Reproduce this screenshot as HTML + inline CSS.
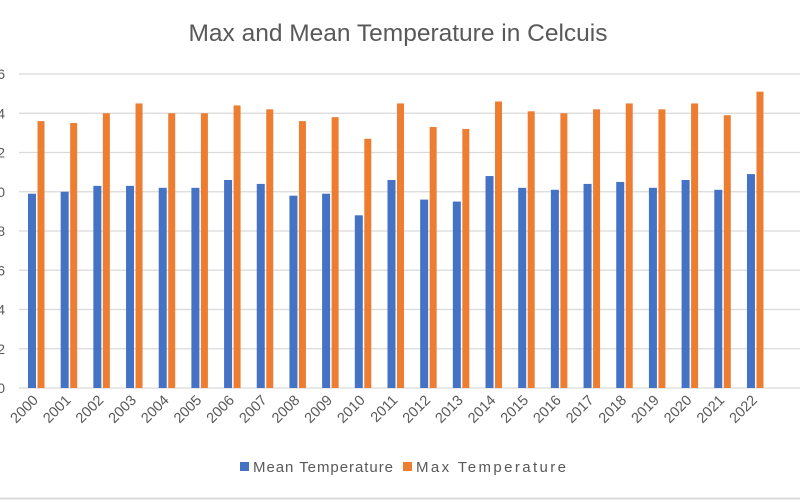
<!DOCTYPE html>
<html><head><meta charset="utf-8"><style>
html,body{margin:0;padding:0;background:#fff;}
svg{display:block;font-family:"Liberation Sans",sans-serif;}
</style></head><body>
<svg width="800" height="500" viewBox="0 0 800 500" xmlns="http://www.w3.org/2000/svg">
<rect width="800" height="500" fill="#fff"/>
<line x1="0" y1="498.5" x2="800" y2="498.5" stroke="#d9d9d9" stroke-width="2"/>
<text x="398" y="41" text-anchor="middle" font-size="24.5" fill="#595959">Max and Mean Temperature in Celcuis</text>
<g id="grid" stroke="#d9d9d9" stroke-width="1.3"></g>
<g id="ylab" font-size="14" fill="#595959" text-anchor="end"></g>
<g id="bars"></g>
<g id="xlab" font-size="14.5" fill="#595959" text-anchor="end"></g>
<rect x="240" y="462" width="9" height="9" fill="#4472c4"/>
<text x="253" y="472" font-size="15" fill="#595959" textLength="140">Mean Temperature</text>
<rect x="403" y="462" width="9" height="9" fill="#ed7d31"/>
<text x="416" y="472" font-size="15" fill="#595959" textLength="150">Max Temperature</text>
<script>
var ns="http://www.w3.org/2000/svg";
function el(p,t,a,txt){var e=document.createElementNS(ns,t);for(var k in a)e.setAttribute(k,a[k]);if(txt)e.textContent=txt;document.getElementById(p).appendChild(e);}
var y0=388,u=19.625;
for(var i=0;i<=8;i++){var y=y0-i*2*u;el("grid","line",{x1:19,x2:800,y1:y,y2:y});el("ylab","text",{x:5,y:y+5},String(i*2));}
var mean=[9.9,10.0,10.3,10.3,10.2,10.2,10.6,10.4,9.8,9.9,8.8,10.6,9.6,9.5,10.8,10.2,10.1,10.4,10.5,10.2,10.6,10.1,10.9];
var mx=[13.6,13.5,14.0,14.5,14.0,14.0,14.4,14.2,13.6,13.8,12.7,14.5,13.3,13.2,14.6,14.1,14.0,14.2,14.5,14.2,14.5,13.9,15.1];
for(var j=0;j<23;j++){var x=28+j*32.68;
el("bars","rect",{x:x,y:y0-mean[j]*u,width:8,height:mean[j]*u,fill:"#4472c4"});
el("bars","rect",{x:x+9.5,y:y0-mx[j]*u,width:7,height:mx[j]*u,fill:"#ed7d31"});
var cx=x+11;el("xlab","text",{x:cx,y:401,transform:"rotate(-45 "+cx+" 401)"},String(2000+j));}
</script>
</svg>
</body></html>
